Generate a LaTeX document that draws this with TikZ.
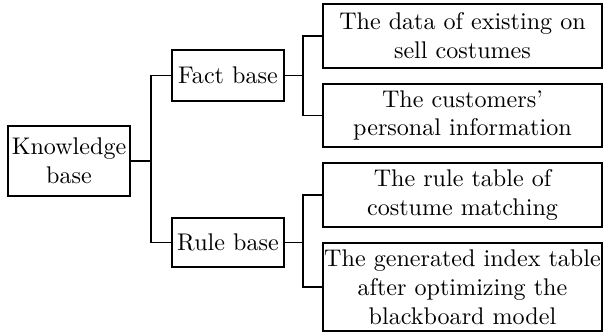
\documentclass[tikz,border=0pt]{standalone}
\usetikzlibrary{calc}
\begin{document}
\begin{tikzpicture}[x=0.415pt,y=-0.415pt,
  box/.style={draw,line width=0.45pt,inner sep=0pt,align=center,font=\fontsize{10}{12}\selectfont},
  link/.style={line width=0.45pt}]
\useasboundingbox (0,0) rectangle (603,334);
\node[box,minimum width=122*0.415pt,minimum height=70*0.415pt] (K) at (69,161) {Knowledge\\base};
\node[box,minimum width=112*0.415pt,minimum height=51*0.415pt] (F) at (228,75.5) {Fact base};
\node[box,minimum width=112*0.415pt,minimum height=49*0.415pt] (R) at (228,242.5) {Rule base};
\node[box,minimum width=279*0.415pt,minimum height=64*0.415pt] (D1) at (462.5,36) {The data of existing on\\sell costumes};
\node[box,minimum width=279*0.415pt,minimum height=63*0.415pt] (D2) at (462.5,115.5) {The customers'\\personal information};
\node[box,minimum width=279*0.415pt,minimum height=64*0.415pt] (D3) at (462.5,195) {The rule table of\\costume matching};
\node[box,minimum width=279*0.415pt,minimum height=88*0.415pt] (D4) at (462.5,287) {The generated index table\\after optimizing the\\blackboard model};
\coordinate (j1) at (151,161);
\coordinate (j2) at (303,75.5);
\coordinate (j3) at (303,242.5);
\draw[link] (K.east) -- (j1);
\draw[link] (F.west) -| (j1) |- (R.west);
\draw[link] (F.east) -- (j2);
\draw[link] (D1.west) -| (j2) |- (D2.west);
\draw[link] (R.east) -- (j3);
\draw[link] (D3.west) -| (j3) |- (D4.west);
\end{tikzpicture}
\end{document}
